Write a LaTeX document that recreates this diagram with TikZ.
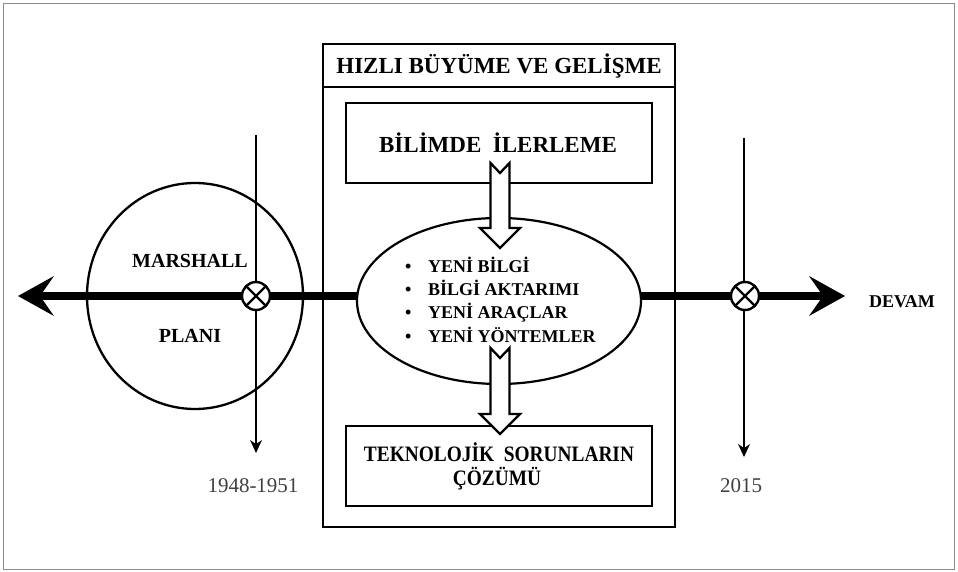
\documentclass[tikz,border=0pt]{standalone}
\usepackage{fontspec}
\setmainfont{Liberation Serif}
\usetikzlibrary{arrows.meta,shapes.geometric}
\begin{document}
\begin{tikzpicture}[x=1pt,y=-1pt,
  boxrect/.style={draw, line width=2.6pt, inner sep=0pt, outer sep=0pt},
  boxline/.style={line width=2.6pt},
  btxt/.style={anchor=base, inner sep=0pt, text=black, font=\bfseries\fontsize{#1}{#1}\selectfont},
  ytxt/.style={anchor=base, inner sep=0pt, text=black!75, font=\fontsize{21}{21}\selectfont},
  bullet/.style={anchor=base west, inner sep=0pt, text=black, font=\bfseries\fontsize{18}{18}\selectfont},
  timeline/.style={line width=7.5pt,
    {Stealth[length=36pt,width=40pt,inset=14pt,line width=0pt]}-{Stealth[length=36pt,width=40pt,inset=14pt,line width=0pt]}},
  tick/.style={line width=2pt, -{Stealth[length=13pt,width=12pt,inset=4pt,line width=0pt]}},
  cross/.style={circle, draw, fill=white, line width=2.4pt, minimum size=28pt, inner sep=0pt, outer sep=0pt},
  hollow/.style={draw, fill=white, line width=2.3pt, line join=miter},
  pics/blockarrow/.style={code={
    \draw[hollow] (-9.5,0) -- (0,10) -- (9.5,0) -- (9.5,#1) -- (20,#1) -- (0,#1+20) -- (-20,#1) -- (-9.5,#1) -- cycle;}}
]
\useasboundingbox (0,0) rectangle (958,572);
\draw[draw=black!45, line width=1pt] (3.5,3.5) rectangle (954.5,569.5);

% central frame with its header strip and the two inner boxes
\node[boxrect, minimum width=352pt, minimum height=483pt] (main) at (499,285.5) {};
\coordinate (hd) at (499,87);
\draw[boxline] (main.west |- hd) -- (main.east |- hd);
\node[boxrect, minimum width=306pt, minimum height=80pt] (sci) at (499,143) {};
\node[boxrect, minimum width=306pt, minimum height=80pt] (tech) at (499,466) {};

% Marshall Plan circle
\node[ellipse, draw, line width=2.3pt, minimum width=216pt, minimum height=226pt, inner sep=0pt] (plan) at (195,296) {};

% timeline
\coordinate (tl) at (18,296);
\coordinate (tr) at (845,296);
\draw[timeline] (tl) -- (tr);

% core ellipse
\node[ellipse, draw, fill=white, line width=2.2pt, minimum width=284pt, minimum height=166pt, inner sep=0pt] (core) at (499,301) {};

% date markers
\coordinate (v1t) at (256,135);
\coordinate (v1b) at (256,453);
\coordinate (v2t) at (744,138);
\coordinate (v2b) at (744,457);
\draw[tick] (v1t) -- (v1b);
\draw[tick] (v2t) -- (v2b);
\node[cross] (x1) at (256,296) {};
\node[cross] (x2) at (745,296) {};
\draw[line width=2.2pt] (x1.north west) -- (x1.south east) (x1.north east) -- (x1.south west);
\draw[line width=2.2pt] (x2.north west) -- (x2.south east) (x2.north east) -- (x2.south west);

% hollow block arrows
\pic at (500,163) {blockarrow=65};
\pic at (500,348) {blockarrow=66};

% texts
\node[btxt=23] (title) at (499,74) {HIZLI BÜYÜME VE GELİŞME};
\node[btxt=23] (scitxt) at (498,153) {BİLİMDE\ \ İLERLEME};
\node[btxt=22] (tech1) at (499,461) {\scalebox{0.88}[1]{TEKNOLOJİK\ \ SORUNLARIN}};
\node[btxt=22] (tech2) at (497,485) {\scalebox{0.88}[1]{ÇÖZÜMÜ}};
\node[btxt=20] (m1) at (190,267) {MARSHALL};
\node[btxt=20] (m2) at (190,342) {PLANI};
\node[btxt=18] (devam) at (902,307) {DEVAM};
\node[ytxt] (y1) at (253,492) {1948-1951};
\node[ytxt] (y2) at (741,492) {2015};
\node[bullet] (b1) at (405,272) {\makebox[23pt][l]{\textbullet}YENİ BİLGİ};
\node[bullet] (b2) at (405,295) {\makebox[23pt][l]{\textbullet}BİLGİ AKTARIMI};
\node[bullet] (b3) at (405,318) {\makebox[23pt][l]{\textbullet}YENİ ARAÇLAR};
\node[bullet] (b4) at (405,342) {\makebox[23pt][l]{\textbullet}YENİ YÖNTEMLER};
\end{tikzpicture}
\end{document}
